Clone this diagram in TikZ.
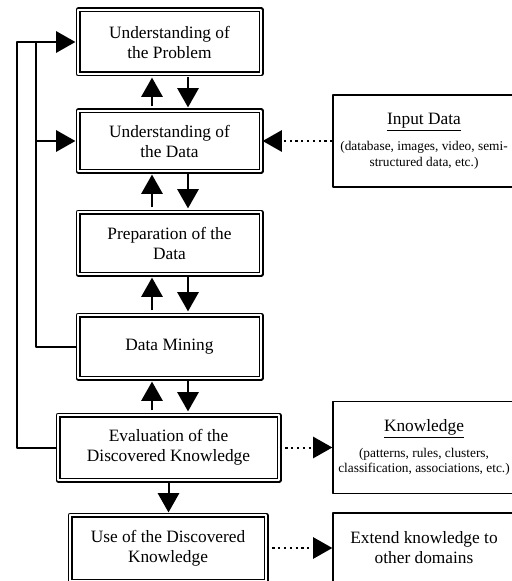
\documentclass[tikz,border=0pt]{standalone}
\usepackage{fontspec}
\setmainfont{Liberation Serif}
\usetikzlibrary{arrows.meta}
\newlength\px
\setlength\px{0.75pt}
\tikzset{
  stage/.style={draw, double, line width=1.2\px, double distance=2.6\px,
    align=center, inner sep=0pt, font=\fontsize{13}{15}\selectfont},
  info/.style={draw, line width=1.3\px, align=center, inner sep=0pt,
    font=\fontsize{10}{11.5}\selectfont},
  flow/.style={line width=2\px, -{Triangle[length=14.5pt,width=16pt]}},
  feed/.style={flow, dash pattern=on 2.2\px off 3.6\px},
  head/.style={font=\fontsize{13}{15}\selectfont}
}
\begin{document}
\begin{tikzpicture}[x=0.75pt, y=-0.75pt, line join=round]
  \useasboundingbox (0,0) rectangle (511,581);
  % process stages
  \node[stage, minimum width=183\px, minimum height=64\px] (prob) at (169.5,42) {Understanding of\\the Problem};
  \node[stage, minimum width=183\px, minimum height=60\px] (data) at (169.5,141) {Understanding of\\the Data};
  \node[stage, minimum width=183\px, minimum height=62\px] (prep) at (169.5,243) {Preparation of the\\Data};
  \node[stage, minimum width=183\px, minimum height=63\px] (mine) at (169.5,346.5) {Data Mining};
  \node[stage, minimum width=221\px, minimum height=65\px] (eval) at (168.5,447.5) {Evaluation of the\\Discovered Knowledge};
  \node[stage, minimum width=196\px, minimum height=66\px] (use) at (168,548) {Use of the Discovered\\Knowledge};
  % side boxes
  \node[info, minimum width=182\px, minimum height=92\px] (input) at (424,141)
    {{\fontsize{13}{15}\selectfont\underline{Input Data}}\\[7pt](database, images, video, semi-\\structured data, etc.)};
  \node[info, minimum width=182\px, minimum height=92\px] (know) at (424,447.5)
    {{\fontsize{13}{15}\selectfont\underline{Knowledge}}\\[7pt](patterns, rules, clusters,\\classification, associations, etc.)};
  \node[info, minimum width=182\px, minimum height=70\px, head] (ext) at (424,548)
    {Extend knowledge to\\other domains};
  % arrows between stages
  \foreach \a/\b in {prob/data, data/prep, prep/mine, mine/eval}{
    \path ([xshift=-17.5\px]\a.south) coordinate (up)
          ([xshift=18.5\px]\a.south) coordinate (dn);
    \draw[flow, shorten >=3\px, shorten <=4\px] (up |- \b.north) -- (up);
    \draw[flow, shorten >=3\px, shorten <=2\px] (dn) -- (dn |- \b.north);
  }
  \draw[flow, shorten >=2\px, shorten <=2\px] (eval.south) -- (eval.south |- use.north);
  % feedback loops
  \coordinate (rail1) at (17,0);
  \coordinate (rail2) at (36,0);
  \draw[flow, shorten >=2\px] (eval.west) -| (rail1 |- prob.west) -- (prob.west);
  \draw[line width=2\px] (mine.west) -| (rail2 |- prob.west);
  \draw[flow, shorten >=2\px] (rail2 |- data.west) -- (data.west);
  % dotted links
  \draw[feed, shorten >=1\px] (input.west) -- (data.east);
  \draw[feed] (eval.east) -- (know.west);
  \draw[feed] (use.east) -- (ext.west);
\end{tikzpicture}
\end{document}
